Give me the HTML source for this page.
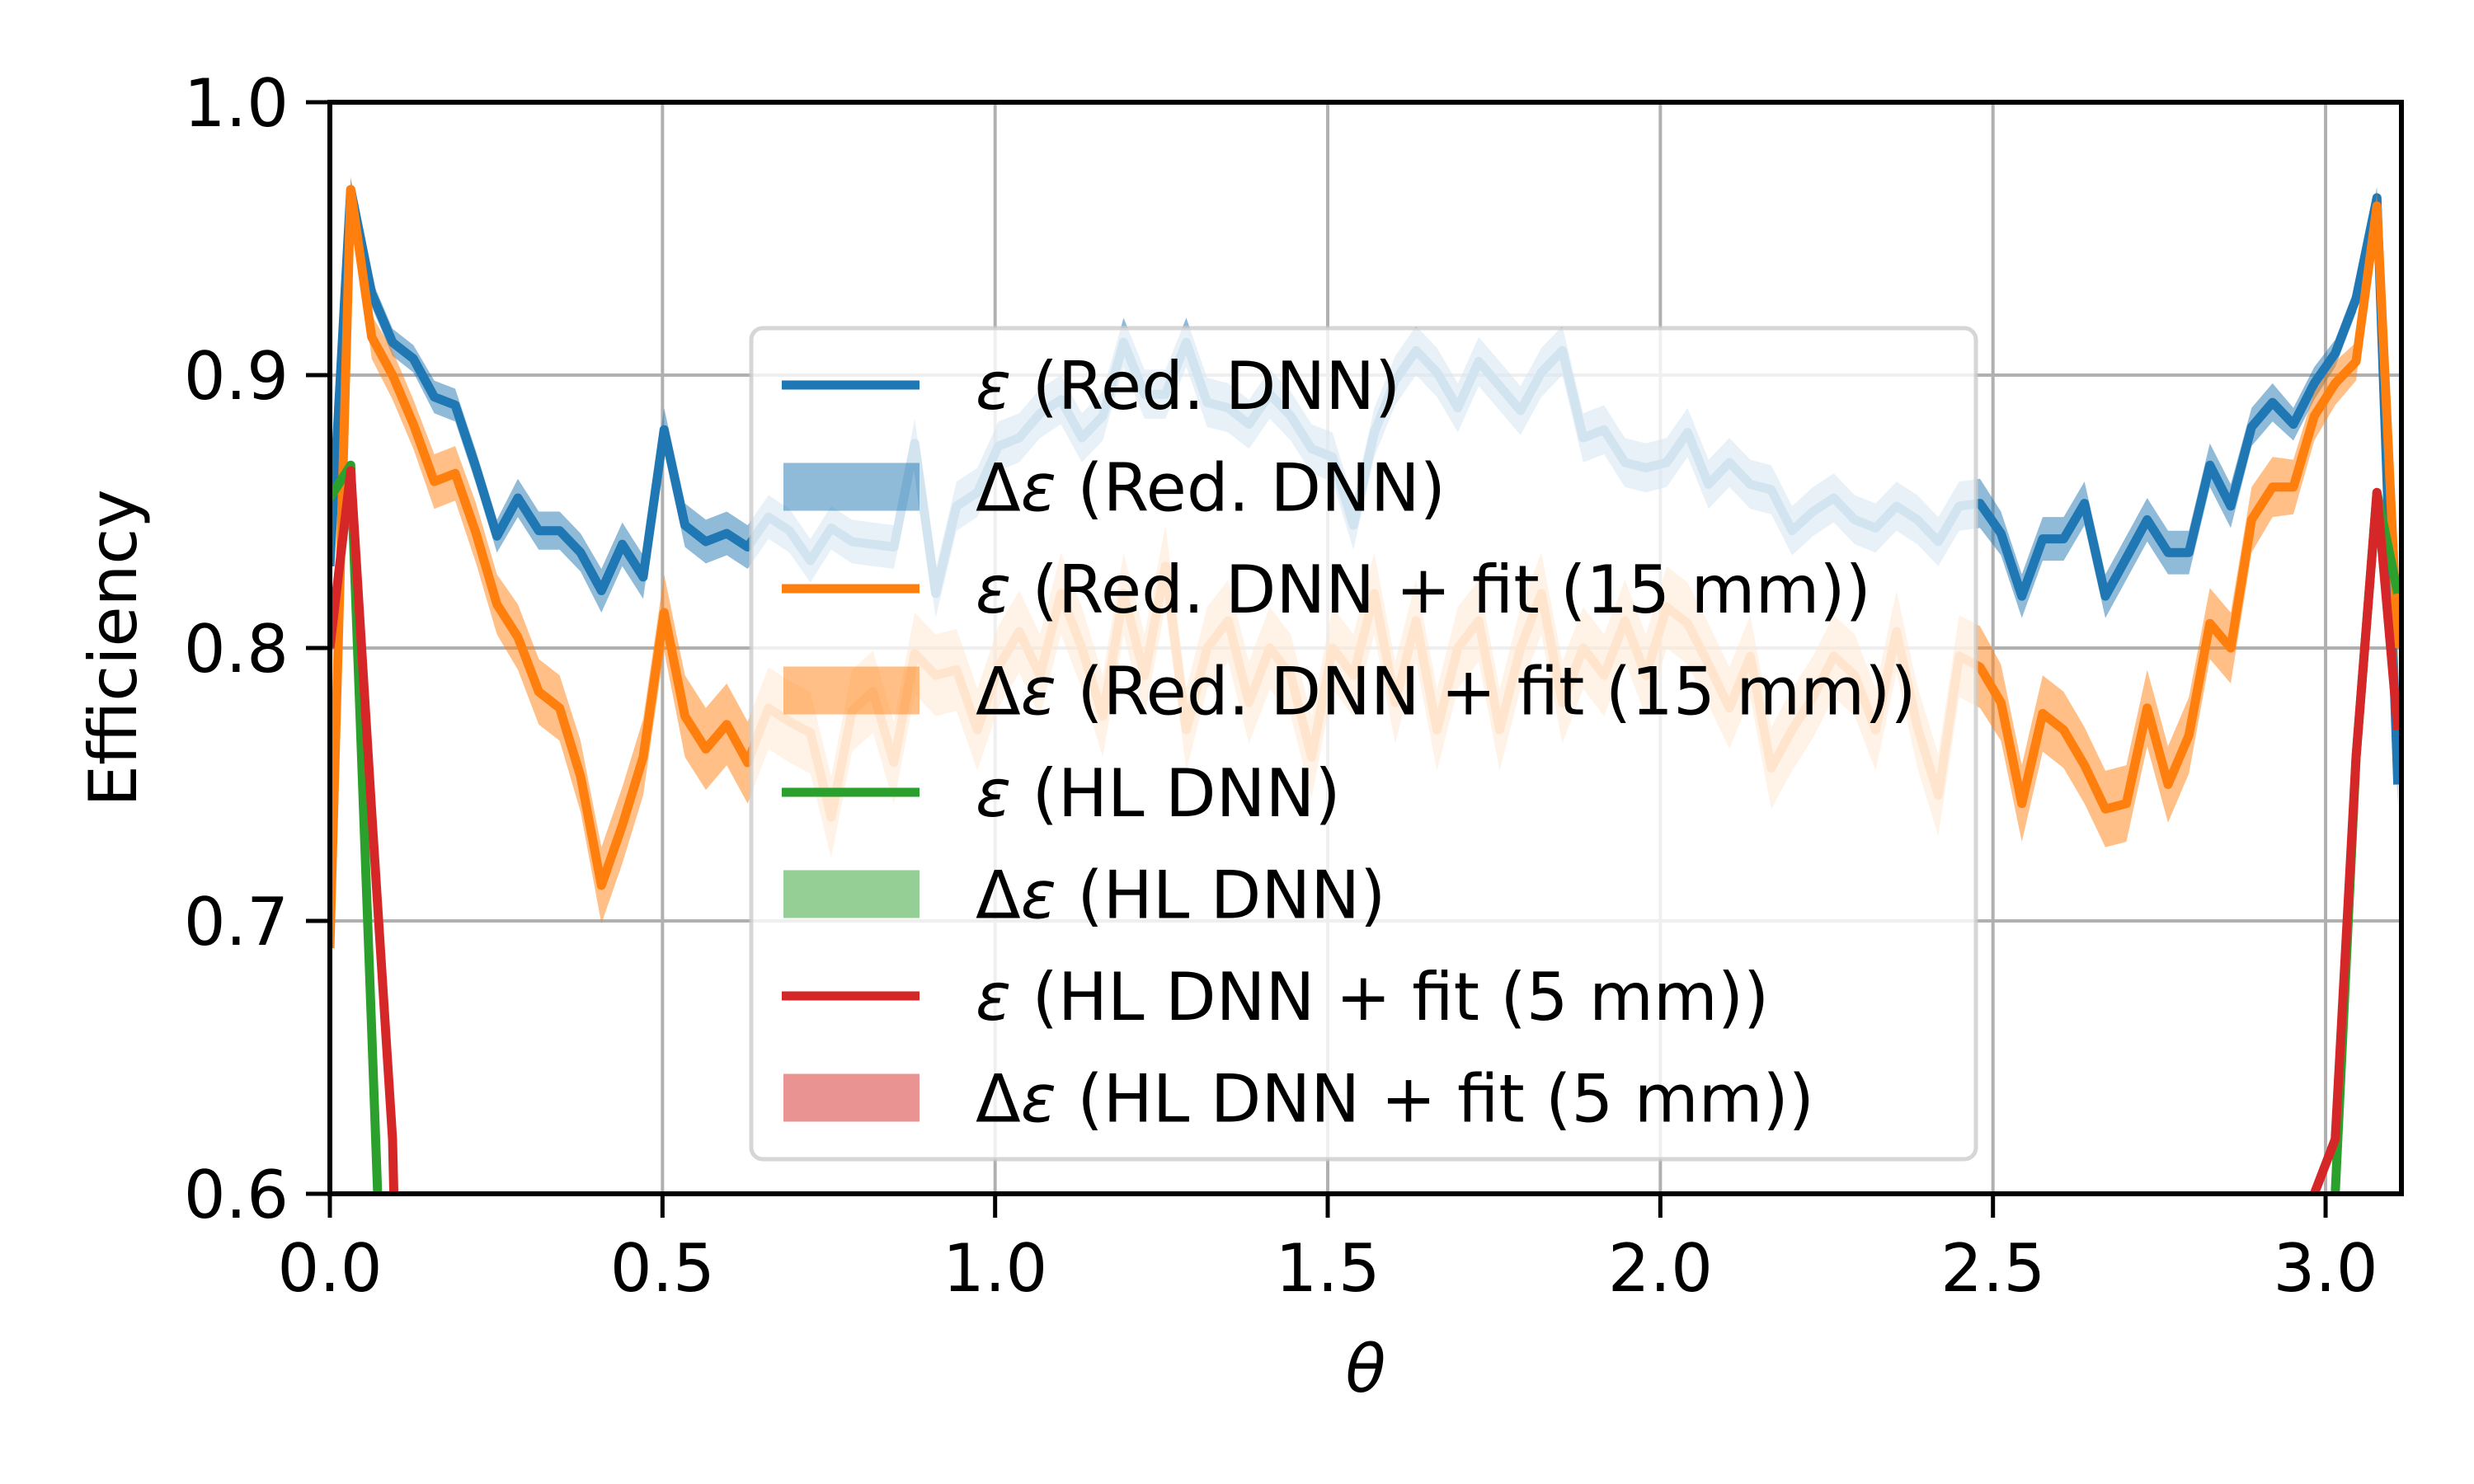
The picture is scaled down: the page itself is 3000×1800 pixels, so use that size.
<!DOCTYPE html>
<html><head><meta charset="utf-8"><style>
html,body{margin:0;padding:0;background:#fff;overflow:hidden;width:3000px;height:1800px;}
svg{display:block;font-family:"DejaVu Sans","Liberation Sans",sans-serif;}
</style></head><body>
<svg id="chart" width="3000" height="1800" viewBox="0 0 3000 1800" xmlns="http://www.w3.org/2000/svg">
<defs><clipPath id="plotclip"><rect x="400" y="124" width="2512" height="1324"/></clipPath></defs>
<rect x="0" y="0" width="3000" height="1800" fill="#fff"/>
<g id="grid"></g>
<g id="series" clip-path="url(#plotclip)"></g>
<g id="axes"></g>
<g id="legend"></g>
</svg>
<script>
const xTicks = [0.0, 0.5, 1.0, 1.5, 2.0, 2.5, 3.0];
const xTickLabels = ["0.0","0.5","1.0","1.5","2.0","2.5","3.0"];
const yTicks = [0.6, 0.7, 0.8, 0.9, 1.0];
const yTickLabels = ["0.6","0.7","0.8","0.9","1.0"];
const binStep = 0.0314;
const blueVals = [.83,.968,.93,.912,.906,.892,.889,.866,.841,.855,.843,.843,.835,.821,.838,.826,.880,.845,.839,.842,.837,
.848,.843,.832,.844,.839,.838,.837,.875,.82,.852,.857,
.874,.877,.886,.891,.877,.885,.912,.893,.893,.912,.890,.888,.882,.893,.885,.873,.870,.845,.879,.898,.909,.901,.888,.905,.896,.887,.901,.909,.877,.880,.868,.866,
.868,.879,.860,.868,.860,.858,.843,.850,.855,.847,.844,.852,.847,.839,.852,.853,
.842,.819,.84,.84,.853,.819,.833,.847,.835,.835,.867,.852,.881,.89,.882,.897,.908,.928,.965,.75];
const blueErr = [.008,.004,.005,.005,.005,.006,.006,.006,.006,.007,.007,.007,.007,.008,.008,.008,.008,.008,.008,.008,.008,
.008,.008,.008,.008,.008,.008,.008,.009,.009,.009,.009,.009,.009,.009,.009,.009,.009,.009,.009,.009,.009,.009,.009,.009,.009,.009,.009,.009,.009,.009,.009,.009,.009,.009,.009,.009,.009,.009,.009,.009,.009,.009,.009,
.009,.009,.009,.009,.009,.009,.009,.009,.009,.009,.009,.009,.009,.009,.009,.009,
.008,.008,.008,.008,.008,.008,.008,.008,.008,.008,.008,.008,.007,.007,.006,.006,.005,.005,.004,.008];
const orangeVals = [.69,.968,.914,.900,.882,.861,.864,.842,.816,.804,.784,.778,.753,.713,.735,.76,.813,.775,.763,.772,.758,
.778,.773,.769,.738,.777,.784,.758,.798,.79,.792,.77,.793,.806,
.79,.82,.80,.775,.82,.79,.83,.77,.80,.81,.78,.80,.79,.76,.80,.79,.82,.78,.81,.77,.80,.81,.77,.80,.82,.78,.80,.79,.81,.79,
.815,.809,.794,.778,.797,.756,.77,.782,.797,.79,.77,.806,.771,.746,.797,.793,
.78,.743,.776,.77,.757,.741,.743,.778,.75,.768,.809,.8,.847,.859,.859,.885,.897,.905,.962,.80];
const orangeErr = [.012,.005,.008,.009,.009,.010,.010,.011,.011,.012,.012,.012,.013,.014,.014,.014,.014,.015,.015,.015,.015,
.015,.015,.015,.015,.015,.015,.015,.015,.015,.015,.015,.015,.015,.015,.015,.015,.015,.015,.015,.015,.015,.015,.015,.015,.015,.015,.015,.015,.015,.015,.015,.015,.015,.015,.015,.015,.015,.015,.015,.015,.015,.015,.015,
.015,.015,.015,.015,.015,.015,.015,.015,.015,.015,.015,.015,.015,.015,.015,.015,
.014,.014,.014,.014,.014,.014,.014,.014,.014,.014,.013,.013,.012,.011,.010,.009,.008,.007,.005,.012];
const greenVals = [.855,.867,.66,.45,.3,.3,.3,.3,.3,.3,.3,.3,.3,.3,.3,.3,.3,.3,.3,.3,.3,.3,.3,.3,.3,.3,.3,.3,.3,.3,.3,.3,.3,.3,.3,.3,.3,.3,.3,.3,.3,.3,.3,.3,.3,.3,.3,.3,.3,.3,
.3,.3,.3,.3,.3,.3,.3,.3,.3,.3,.3,.3,.3,.3,.3,.3,.3,.3,.3,.3,.3,.3,.3,.3,.3,.3,.3,.3,.3,.3,.3,.3,.3,.3,.3,.3,.3,.3,.3,.3,.3,.3,.3,.3,.3,.4,.6,.76,.857,.82];
const redVals = [.80,.865,.74,.62,.3,.3,.3,.3,.3,.3,.3,.3,.3,.3,.3,.3,.3,.3,.3,.3,.3,.3,.3,.3,.3,.3,.3,.3,.3,.3,.3,.3,.3,.3,.3,.3,.3,.3,.3,.3,.3,.3,.3,.3,.3,.3,.3,.3,.3,.3,
.3,.3,.3,.3,.3,.3,.3,.3,.3,.3,.3,.3,.3,.3,.3,.3,.3,.3,.3,.3,.3,.3,.3,.3,.3,.3,.3,.3,.3,.3,.3,.3,.3,.3,.3,.3,.3,.3,.3,.3,.3,.3,.3,.3,.55,.6,.62,.76,.857,.77];
const legendPrefix = ["","\u0394","","\u0394","","\u0394","","\u0394"];
const legendLabels = [" (Red. DNN)"," (Red. DNN)"," (Red. DNN + fit (15 mm))"," (Red. DNN + fit (15 mm))"," (HL DNN)"," (HL DNN)"," (HL DNN + fit (5 mm))"," (HL DNN + fit (5 mm))"];

const NS = "http://www.w3.org/2000/svg";
const X0 = 400, X1 = 2912, Y0 = 1448, Y1 = 124, XMAX = 3.114, YMIN = 0.6, YMAX = 1.0;
function sx(v){ return X0 + (v / XMAX) * (X1 - X0); }
function sy(v){ return Y0 - (v - YMIN) / (YMAX - YMIN) * (Y0 - Y1); }
function mk(tag, attrs, parent){ const e = document.createElementNS(NS, tag); for (const k in attrs) e.setAttribute(k, attrs[k]); parent.appendChild(e); return e; }

const grid = document.getElementById('grid');
const axes = document.getElementById('axes');
const series = document.getElementById('series');
const legend = document.getElementById('legend');

xTicks.forEach((t, i) => {
  const gl = mk('line', {x1: sx(t), x2: sx(t), y1: Y1, y2: Y0, stroke: '#b0b0b0', 'stroke-width': 4}, grid);
  
  
  const tk = mk('line', {x1: sx(t), x2: sx(t), y1: Y0, y2: Y0 + 29, stroke: '#000', 'stroke-width': 5}, axes);
  
  
  const tl = mk('text', {x: sx(t), y: Y0 + 118, 'font-size': 80, 'text-anchor': 'middle', fill: '#000'}, axes);
  tl.textContent = xTickLabels[i];
  
  
});
yTicks.forEach((t, i) => {
  const gl = mk('line', {x1: X0, x2: X1, y1: sy(t), y2: sy(t), stroke: '#b0b0b0', 'stroke-width': 4}, grid);
  
  
  const tk = mk('line', {x1: X0 - 29, x2: X0, y1: sy(t), y2: sy(t), stroke: '#000', 'stroke-width': 5}, axes);
  
  
  const tl = mk('text', {x: X0 - 50, y: sy(t) + 29, 'font-size': 80, 'text-anchor': 'end', fill: '#000'}, axes);
  tl.textContent = yTickLabels[i];
  
  
});
const frame = mk('rect', {x: X0, y: Y1, width: X1 - X0, height: Y0 - Y1, fill: 'none', stroke: '#000', 'stroke-width': 6}, axes);


const xl = mk('text', {x: (X0 + X1) / 2, y: 1688, 'font-size': 80, 'font-style': 'italic', 'text-anchor': 'middle'}, axes);
xl.textContent = '\u03b8';


const yl = mk('text', {x: 0, y: 0, 'font-size': 80, 'text-anchor': 'middle', transform: 'translate(165,786) rotate(-90)'}, axes);
yl.textContent = 'Efficiency';



function band(vals, errs, color, name){
  let up = [], dn = [];
  vals.forEach((v, i) => { up.push(sx(i * binStep).toFixed(1) + ',' + sy(v + errs[i]).toFixed(1)); dn.push(sx(i * binStep).toFixed(1) + ',' + sy(v - errs[i]).toFixed(1)); });
  const p = mk('polygon', {points: up.concat(dn.reverse()).join(' '), fill: color, 'fill-opacity': 0.5, stroke: 'none'}, series);
  
  
}
function line(vals, color, name){
  const pts = vals.map((v, i) => sx(i * binStep).toFixed(1) + ',' + sy(v).toFixed(1)).join(' ');
  const p = mk('polyline', {points: pts, fill: 'none', stroke: color, 'stroke-width': 11, 'stroke-linejoin': 'round'}, series);
  
  
}
band(blueVals, blueErr, '#1f77b4', 'band-red-dnn');
line(blueVals, '#1f77b4', 'line-red-dnn');
band(orangeVals, orangeErr, '#ff7f0e', 'band-red-dnn-fit');
line(orangeVals, '#ff7f0e', 'line-red-dnn-fit');
line(greenVals, '#2ca02c', 'line-hl-dnn');
line(redVals, '#d62728', 'line-hl-dnn-fit');

const lb = mk('rect', {x: 911, y: 398, width: 1485, height: 1008, rx: 14, fill: '#fff', 'fill-opacity': 0.8, stroke: '#cccccc', 'stroke-opacity': 0.8, 'stroke-width': 5}, legend);


const legColors = ['#1f77b4','#1f77b4','#ff7f0e','#ff7f0e','#2ca02c','#2ca02c','#d62728','#d62728'];
legendLabels.forEach((lab, i) => {
  const cy = 467 + i * 123.5;
  if (i % 2 === 0) {
    const h = mk('line', {x1: 948, x2: 1115, y1: cy, y2: cy, stroke: legColors[i], 'stroke-width': 11}, legend);
    
    
  } else {
    const h = mk('rect', {x: 950, y: cy - 29, width: 165, height: 58, fill: legColors[i], 'fill-opacity': 0.5}, legend);
    
    
  }
  const t = mk('text', {x: 1183, y: cy + 29, 'font-size': 80, fill: '#000'}, legend);
  
  
  const s1 = mk('tspan', {}, t);
  s1.textContent = legendPrefix[i];
  const s2 = mk('tspan', {'font-style': 'italic'}, t);
  s2.textContent = '\u03b5';
  const s3 = mk('tspan', {}, t);
  s3.textContent = lab;
});
</script>
</body></html>
